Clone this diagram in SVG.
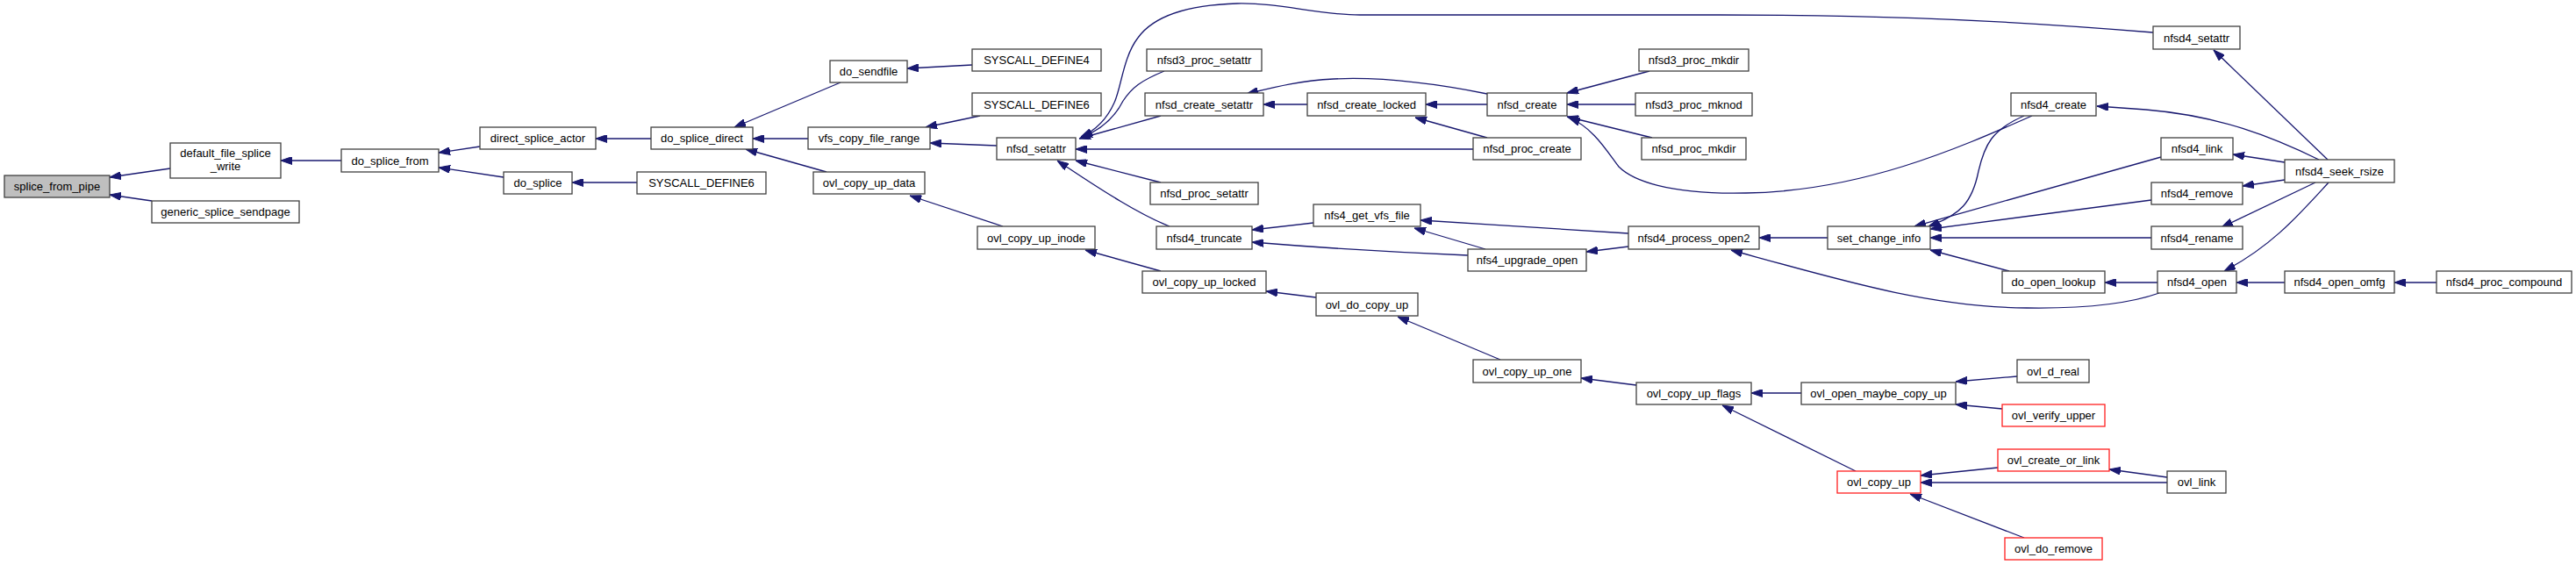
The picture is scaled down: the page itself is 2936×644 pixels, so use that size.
<svg xmlns="http://www.w3.org/2000/svg" width="2936" height="644" viewBox="0 0 2936 644">
<style>
.n rect{fill:#fff;stroke:#404040;stroke-width:1.3}
.n.r rect{stroke:#ff2020}
.n.g rect{fill:#bfbfbf}
.n text{font-family:"Liberation Sans",Arial,sans-serif;font-size:13px;text-anchor:middle;fill:#000}
.e path{fill:none;stroke:#191970;stroke-width:1.3;marker-end:url(#ah)}
</style>
<defs>
<marker id="ah" markerUnits="userSpaceOnUse" viewBox="0 0 13 9" refX="13" refY="4.5" markerWidth="13" markerHeight="9" orient="auto">
<path d="M0,0 L13,4.5 L0,9 z" fill="#191970" stroke="#191970" stroke-width="1"/>
</marker>
</defs>
<rect width="2936" height="644" fill="#fff"/>
<g id="edges" class="e">
<path d="M194,192 L125,202"/>
<path d="M173,229 L125,222"/>
<path d="M389,183 L320,183"/>
<path d="M547,167 L500,174"/>
<path d="M574,202 L500,191"/>
<path d="M742,158 L679,158"/>
<path d="M726,208 L652,208"/>
<path d="M958,94 L837,145"/>
<path d="M921,158 L858,158"/>
<path d="M942,196 L850,170"/>
<path d="M1108,74 L1034,78"/>
<path d="M1117,132 L1055,145"/>
<path d="M1136,166 L1060,163"/>
<path d="M1143,258 L1037,223"/>
<path d="M2454,37 C2250,20 2100,17 1960,17 L1550,17 C1500,17 1460,3 1410,4 C1340,6 1310,25 1297,43 C1280,65 1278,100 1270,117 C1262,135 1250,148 1232,156"/>
<path d="M1327,81 C1300,92 1290,100 1280,115 C1270,135 1255,148 1232,157"/>
<path d="M1323,132 L1230,158"/>
<path d="M1679,170 L1226,170"/>
<path d="M1323,208 L1226,183"/>
<path d="M1333,258 C1300,245 1260,220 1205,183"/>
<path d="M1323,309 L1237,285"/>
<path d="M1695,107 C1620,92 1560,88 1520,90 C1480,92 1450,100 1421,107"/>
<path d="M1490,119 L1440,119"/>
<path d="M1497,254 L1427,262"/>
<path d="M1673,291 C1600,288 1500,282 1427,276"/>
<path d="M1500,339 L1443,332"/>
<path d="M1695,119 L1625,119"/>
<path d="M1695,157 L1613,134"/>
<path d="M1880,81 L1786,106"/>
<path d="M1864,119 L1786,119"/>
<path d="M1883,157 L1786,133"/>
<path d="M2316,132 C2230,170 2120,218 1990,220 C1900,222 1860,205 1845,190 C1830,170 1815,145 1788,134"/>
<path d="M1856,266 L1619,251"/>
<path d="M1856,281 L1808,287"/>
<path d="M1693,284 L1612,260"/>
<path d="M1710,410 L1593,361"/>
<path d="M1865,439 L1802,431"/>
<path d="M2083,271 L2005,271"/>
<path d="M2461,334 C2430,345 2380,352 2310,351 C2200,350 2100,320 1973,285"/>
<path d="M2307,132 C2270,148 2262,165 2255,195 C2248,230 2235,245 2198,258"/>
<path d="M2463,179 L2182,258"/>
<path d="M2452,228 L2200,261"/>
<path d="M2452,271 L2200,271"/>
<path d="M2290,309 L2200,285"/>
<path d="M2643,182 C2590,156 2530,132 2446,125 L2390,121"/>
<path d="M2653,182 L2523,57"/>
<path d="M2604,185 L2545,176"/>
<path d="M2604,205 L2556,212"/>
<path d="M2639,208 L2532,259"/>
<path d="M2654,208 C2620,245 2590,280 2535,309"/>
<path d="M2459,322 L2399,322"/>
<path d="M2604,322 L2549,322"/>
<path d="M2777,322 L2729,322"/>
<path d="M2053,448 L1996,448"/>
<path d="M2115,537 L1963,462"/>
<path d="M2299,429 L2229,435"/>
<path d="M2282,466 L2229,461"/>
<path d="M2277,533 L2189,542"/>
<path d="M2470,550 L2189,550"/>
<path d="M2307,613 L2177,563"/>
<path d="M2470,544 L2404,535"/>
</g>
<g id="n_splice_from_pipe" class="n g"><rect x="5" y="200" width="120" height="25"/><text x="65" y="217">splice_from_pipe</text></g>
<g id="n_default_file_splice_write" class="n"><rect x="194" y="163" width="126" height="40"/><text x="257" y="178.5">default_file_splice</text><text x="257" y="193.5">_write</text></g>
<g id="n_generic_splice_sendpage" class="n"><rect x="173" y="229" width="168" height="25"/><text x="257" y="246">generic_splice_sendpage</text></g>
<g id="n_do_splice_from" class="n"><rect x="389" y="170" width="111" height="26"/><text x="444.5" y="187.5">do_splice_from</text></g>
<g id="n_direct_splice_actor" class="n"><rect x="547" y="145" width="132" height="25"/><text x="613" y="162">direct_splice_actor</text></g>
<g id="n_do_splice" class="n"><rect x="574" y="196" width="78" height="25"/><text x="613" y="213">do_splice</text></g>
<g id="n_do_splice_direct" class="n"><rect x="742" y="145" width="116" height="25"/><text x="800" y="162">do_splice_direct</text></g>
<g id="n_SYSCALL_DEFINE6_a" class="n"><rect x="726" y="196" width="147" height="25"/><text x="799.5" y="213">SYSCALL_DEFINE6</text></g>
<g id="n_do_sendfile" class="n"><rect x="946" y="69" width="88" height="25"/><text x="990" y="86">do_sendfile</text></g>
<g id="n_vfs_copy_file_range" class="n"><rect x="921" y="145" width="139" height="25"/><text x="990.5" y="162">vfs_copy_file_range</text></g>
<g id="n_ovl_copy_up_data" class="n"><rect x="927" y="196" width="127" height="25"/><text x="990.5" y="213">ovl_copy_up_data</text></g>
<g id="n_SYSCALL_DEFINE4" class="n"><rect x="1108" y="56" width="147" height="25"/><text x="1181.5" y="73">SYSCALL_DEFINE4</text></g>
<g id="n_SYSCALL_DEFINE6_b" class="n"><rect x="1108" y="106" width="147" height="26"/><text x="1181.5" y="123.5">SYSCALL_DEFINE6</text></g>
<g id="n_nfsd_setattr" class="n"><rect x="1136" y="157" width="90" height="25"/><text x="1181" y="174">nfsd_setattr</text></g>
<g id="n_ovl_copy_up_inode" class="n"><rect x="1114" y="258" width="134" height="26"/><text x="1181" y="275.5">ovl_copy_up_inode</text></g>
<g id="n_nfsd3_proc_setattr" class="n"><rect x="1307" y="56" width="131" height="25"/><text x="1372.5" y="73">nfsd3_proc_setattr</text></g>
<g id="n_nfsd_create_setattr" class="n"><rect x="1305" y="106" width="135" height="26"/><text x="1372.5" y="123.5">nfsd_create_setattr</text></g>
<g id="n_nfsd_proc_setattr" class="n"><rect x="1311" y="208" width="123" height="25"/><text x="1372.5" y="225">nfsd_proc_setattr</text></g>
<g id="n_nfsd4_truncate" class="n"><rect x="1318" y="258" width="109" height="26"/><text x="1372.5" y="275.5">nfsd4_truncate</text></g>
<g id="n_ovl_copy_up_locked" class="n"><rect x="1302" y="309" width="141" height="25"/><text x="1372.5" y="326">ovl_copy_up_locked</text></g>
<g id="n_nfsd_create_locked" class="n"><rect x="1490" y="106" width="135" height="26"/><text x="1557.5" y="123.5">nfsd_create_locked</text></g>
<g id="n_nfs4_get_vfs_file" class="n"><rect x="1497" y="233" width="122" height="25"/><text x="1558" y="250">nfs4_get_vfs_file</text></g>
<g id="n_ovl_do_copy_up" class="n"><rect x="1500" y="334" width="116" height="26"/><text x="1558" y="351.5">ovl_do_copy_up</text></g>
<g id="n_nfsd_create" class="n"><rect x="1695" y="106" width="91" height="26"/><text x="1740.5" y="123.5">nfsd_create</text></g>
<g id="n_nfsd_proc_create" class="n"><rect x="1679" y="157" width="123" height="25"/><text x="1740.5" y="174">nfsd_proc_create</text></g>
<g id="n_nfs4_upgrade_open" class="n"><rect x="1673" y="284" width="135" height="25"/><text x="1740.5" y="301">nfs4_upgrade_open</text></g>
<g id="n_ovl_copy_up_one" class="n"><rect x="1679" y="410" width="123" height="26"/><text x="1740.5" y="427.5">ovl_copy_up_one</text></g>
<g id="n_nfsd3_proc_mkdir" class="n"><rect x="1868" y="56" width="125" height="25"/><text x="1930.5" y="73">nfsd3_proc_mkdir</text></g>
<g id="n_nfsd3_proc_mknod" class="n"><rect x="1864" y="106" width="133" height="26"/><text x="1930.5" y="123.5">nfsd3_proc_mknod</text></g>
<g id="n_nfsd_proc_mkdir" class="n"><rect x="1871" y="157" width="119" height="25"/><text x="1930.5" y="174">nfsd_proc_mkdir</text></g>
<g id="n_nfsd4_process_open2" class="n"><rect x="1856" y="258" width="149" height="26"/><text x="1930.5" y="275.5">nfsd4_process_open2</text></g>
<g id="n_ovl_copy_up_flags" class="n"><rect x="1865" y="436" width="131" height="25"/><text x="1930.5" y="453">ovl_copy_up_flags</text></g>
<g id="n_set_change_info" class="n"><rect x="2083" y="258" width="117" height="26"/><text x="2141.5" y="275.5">set_change_info</text></g>
<g id="n_ovl_open_maybe_copy_up" class="n"><rect x="2053" y="436" width="176" height="25"/><text x="2141" y="453">ovl_open_maybe_copy_up</text></g>
<g id="n_ovl_copy_up" class="n r"><rect x="2094" y="537" width="95" height="25"/><text x="2141.5" y="554">ovl_copy_up</text></g>
<g id="n_nfsd4_create" class="n"><rect x="2292" y="106" width="97" height="26"/><text x="2340.5" y="123.5">nfsd4_create</text></g>
<g id="n_do_open_lookup" class="n"><rect x="2282" y="309" width="117" height="25"/><text x="2340.5" y="326">do_open_lookup</text></g>
<g id="n_ovl_d_real" class="n"><rect x="2299" y="410" width="82" height="26"/><text x="2340" y="427.5">ovl_d_real</text></g>
<g id="n_ovl_verify_upper" class="n r"><rect x="2282" y="461" width="117" height="25"/><text x="2340.5" y="478">ovl_verify_upper</text></g>
<g id="n_ovl_create_or_link" class="n r"><rect x="2277" y="512" width="127" height="25"/><text x="2340.5" y="529">ovl_create_or_link</text></g>
<g id="n_ovl_do_remove" class="n r"><rect x="2285" y="613" width="111" height="25"/><text x="2340.5" y="630">ovl_do_remove</text></g>
<g id="n_nfsd4_setattr" class="n"><rect x="2454" y="30" width="99" height="26"/><text x="2503.5" y="47.5">nfsd4_setattr</text></g>
<g id="n_nfsd4_link" class="n"><rect x="2463" y="157" width="82" height="25"/><text x="2504" y="174">nfsd4_link</text></g>
<g id="n_nfsd4_remove" class="n"><rect x="2452" y="208" width="104" height="25"/><text x="2504" y="225">nfsd4_remove</text></g>
<g id="n_nfsd4_rename" class="n"><rect x="2452" y="258" width="104" height="26"/><text x="2504" y="275.5">nfsd4_rename</text></g>
<g id="n_nfsd4_open" class="n"><rect x="2459" y="309" width="90" height="25"/><text x="2504" y="326">nfsd4_open</text></g>
<g id="n_ovl_link" class="n"><rect x="2470" y="537" width="67" height="25"/><text x="2503.5" y="554">ovl_link</text></g>
<g id="n_nfsd4_seek_rsize" class="n"><rect x="2604" y="182" width="125" height="26"/><text x="2666.5" y="199.5">nfsd4_seek_rsize</text></g>
<g id="n_nfsd4_open_omfg" class="n"><rect x="2604" y="309" width="125" height="25"/><text x="2666.5" y="326">nfsd4_open_omfg</text></g>
<g id="n_nfsd4_proc_compound" class="n"><rect x="2777" y="309" width="154" height="25"/><text x="2854" y="326">nfsd4_proc_compound</text></g>
</svg>
